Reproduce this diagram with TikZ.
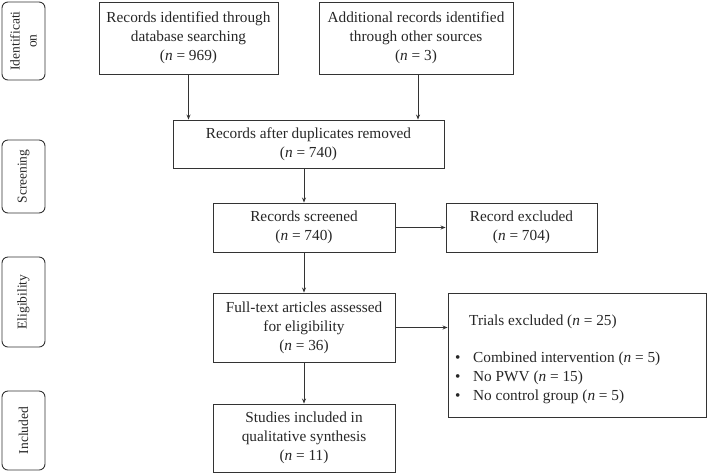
\documentclass[tikz,border=0pt]{standalone}
\usepackage{fontspec}
\setmainfont{Liberation Serif}
\usetikzlibrary{arrows.meta}
\begin{document}
\begin{tikzpicture}[x=1pt,y=-1pt,
  lc/.style={draw=black!80, line width=0.9pt},
  txt/.style={font=\fontsize{15.3}{19}\selectfont, text=black!85},
  box/.style={lc, txt, rectangle, inner sep=0pt, align=center},
  phase/.style={lc, rectangle, rounded corners=6pt, inner sep=0pt, align=center, rotate=90, font=\fontsize{13.5}{17}\selectfont, text=black!85},
  arr/.style={lc, -{Stealth[length=5pt,width=4pt]}}]
\useasboundingbox (0,0) rectangle (708,475);
% phase labels (rotated: minimum width = vertical extent)
\node[phase, minimum width=78pt, minimum height=43pt] (p1) at (23.5,41) {Identificati\\on};
\node[phase, minimum width=73pt, minimum height=43pt] (p2) at (23.5,176.5) {Screening};
\node[phase, minimum width=90pt, minimum height=43pt] (p3) at (23.5,302) {Eligibility};
\node[phase, minimum width=79pt, minimum height=43pt] (p4) at (23.5,430.5) {Included};
% main boxes
\node[box, minimum width=179pt, minimum height=72pt] (b1) at (188.5,38) {Records identified through\\database searching\\(\textit{n} = 969)};
\node[box, minimum width=194pt, minimum height=72pt] (b2) at (416,38) {Additional records identified\\through other sources\\(\textit{n} = 3)};
\node[box, minimum width=271pt, minimum height=48pt] (b3) at (308.5,144) {Records after duplicates removed\\(\textit{n} = 740)};
\node[box, minimum width=182pt, minimum height=49pt] (b4) at (304,227.5) {Records screened\\(\textit{n} = 740)};
\node[box, minimum width=151pt, minimum height=49pt] (b5) at (521.5,227.5) {Record excluded\\(\textit{n} = 704)};
\node[box, minimum width=182pt, minimum height=69pt] (b6) at (304,327.5) {Full-text articles assessed\\for eligibility\\(\textit{n} = 36)};
\node[box, minimum width=258pt, minimum height=124pt] (b7) at (577,355) {};
\node[txt, anchor=west, inner sep=0pt] (t7) at (469,322) {Trials excluded (\textit{n} = 25)};
\node[txt, anchor=west, inner sep=0pt, align=left] (t7b) at (455,377.5) {%
\makebox[18pt][l]{\textbullet}Combined intervention (\textit{n} = 5)\\
\makebox[18pt][l]{\textbullet}No PWV (\textit{n} = 15)\\
\makebox[18pt][l]{\textbullet}No control group (\textit{n} = 5)};
\node[box, minimum width=182pt, minimum height=68pt] (b8) at (304,438) {Studies included in\\qualitative synthesis\\(\textit{n} = 11)};
% connectors
\draw[arr] (b1.south) -- (b1.south |- b3.north);
\draw[arr] (b2.south -| 418,0) -- (b3.north -| 418,0);
\draw[arr] (b3.south -| b4.north) -- (b4.north);
\draw[arr] (b4.east) -- (b5.west);
\draw[arr] (b4.south) -- (b6.north);
\draw[arr] (b6.east) -- (b6.east -| b7.west);
\draw[arr] (b6.south) -- (b8.north);
\end{tikzpicture}
\end{document}
